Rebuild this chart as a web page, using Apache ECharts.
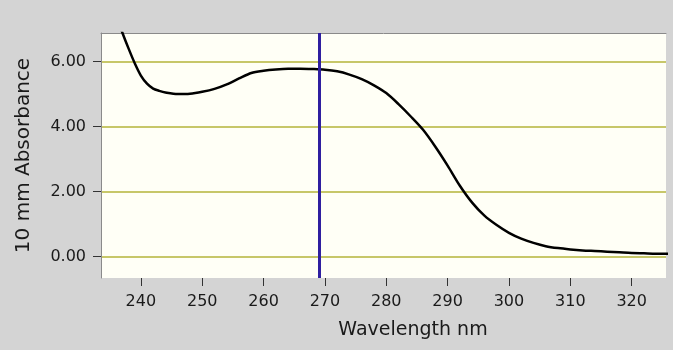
<!DOCTYPE html>
<html>
<head>
<meta charset="utf-8">
<script src="https://cdn.jsdelivr.net/npm/echarts@6/dist/echarts.min.js"></script>
<style>
  html, body { margin: 0; padding: 0; background: #d4d4d4; }
  #chart { width: 673px; height: 350px; }
</style>
</head>
<body>
<div id="chart"></div>
<script>
// wavelength (nm) and absorbance
const wavelengths = [236, 237, 238, 239, 240, 241, 242, 243, 244, 246, 248, 250, 252, 254, 256, 258, 260, 262, 264, 266, 268, 270, 272, 274, 276, 278, 280, 282, 284, 286, 288, 290, 292, 294, 296, 298, 300, 302, 304, 306, 308, 310, 312, 314, 316, 318, 320, 322, 324, 326];
const absorbance = [7.4, 6.88, 6.4, 5.95, 5.57, 5.32, 5.17, 5.1, 5.05, 5.0, 5.01, 5.07, 5.16, 5.3, 5.48, 5.65, 5.72, 5.76, 5.78, 5.78, 5.77, 5.75, 5.7, 5.6, 5.46, 5.27, 5.03, 4.69, 4.31, 3.9, 3.38, 2.8, 2.18, 1.66, 1.26, 0.97, 0.73, 0.55, 0.42, 0.32, 0.26, 0.22, 0.19, 0.17, 0.15, 0.13, 0.11, 0.1, 0.09, 0.09];
const xTicks = [240, 250, 260, 270, 280, 290, 300, 310, 320];
const yTicks = [0, 2, 4, 6];
const cursorWl = 269;

const chart = echarts.init(document.getElementById('chart'));

const labelFont = {
  color: '#1a1a1a',
  fontFamily: 'DejaVu Sans',
  fontSize: 16,
};
const titleFont = {
  color: '#1a1a1a',
  fontFamily: 'DejaVu Sans',
  fontSize: 19,
};

chart.setOption({
  backgroundColor: '#d4d4d4',
  animation: false,
  grid: {
    left: 101,
    right: 7,
    top: 33,
    bottom: 72,
    show: true,
    backgroundColor: '#fffff6',
    borderWidth: 0,
  },
  xAxis: [
    {
      type: 'value',
      min: 233.5,
      max: 325.6,
      name: 'Wavelength nm',
      nameLocation: 'middle',
      nameGap: 43,
      nameTextStyle: { ...titleFont, padding: [0, 0, 0, 59] },
      axisLine: { show: false, onZero: false },
      axisTick: {
        show: true,
        customValues: xTicks,
        length: 8,
        lineStyle: { color: '#333', width: 1 },
      },
      axisLabel: {
        ...labelFont,
        customValues: xTicks,
        margin: 16,
      },
      splitLine: { show: false },
    },
    {
      type: 'value',
      position: 'top',
      min: 233.5,
      max: 325.6,
      axisLine: { show: true, onZero: false, lineStyle: { color: '#8a8a8a', width: 1 } },
      axisTick: { show: false },
      axisLabel: { show: false },
      splitLine: { show: false },
    },
  ],
  yAxis: {
    type: 'value',
    min: -0.66,
    max: 6.88,
    name: '10 mm Absorbance',
    nameLocation: 'middle',
    nameGap: 67,
    nameTextStyle: { ...titleFont, fontSize: 20 },
    axisLine: { show: true, onZero: false, lineStyle: { color: '#8a8a8a', width: 1 } },
    axisTick: {
      show: true,
      customValues: yTicks,
      length: 8,
      lineStyle: { color: '#333', width: 1 },
    },
    axisLabel: {
      ...labelFont,
      customValues: yTicks,
      margin: 15,
      formatter: (v) => v.toFixed(2),
    },
    splitLine: {
      show: true,
      showMinLine: true,
      showMaxLine: true,
      lineStyle: { color: '#b4b43a', width: 1.5 },
    },
  },
  series: [
    {
      type: 'line',
      data: wavelengths.map((w, i) => [w, absorbance[i]]),
      showSymbol: false,
      smooth: 0.3,
      clip: true,
      lineStyle: { color: '#000', width: 2.5 },
      markLine: {
        silent: true,
        symbol: 'none',
        label: { show: false },
        lineStyle: { color: '#2f1fa0', width: 3, type: 'solid' },
        data: [{ xAxis: cursorWl }],
      },
    },
  ],
});
</script>
</body>
</html>
